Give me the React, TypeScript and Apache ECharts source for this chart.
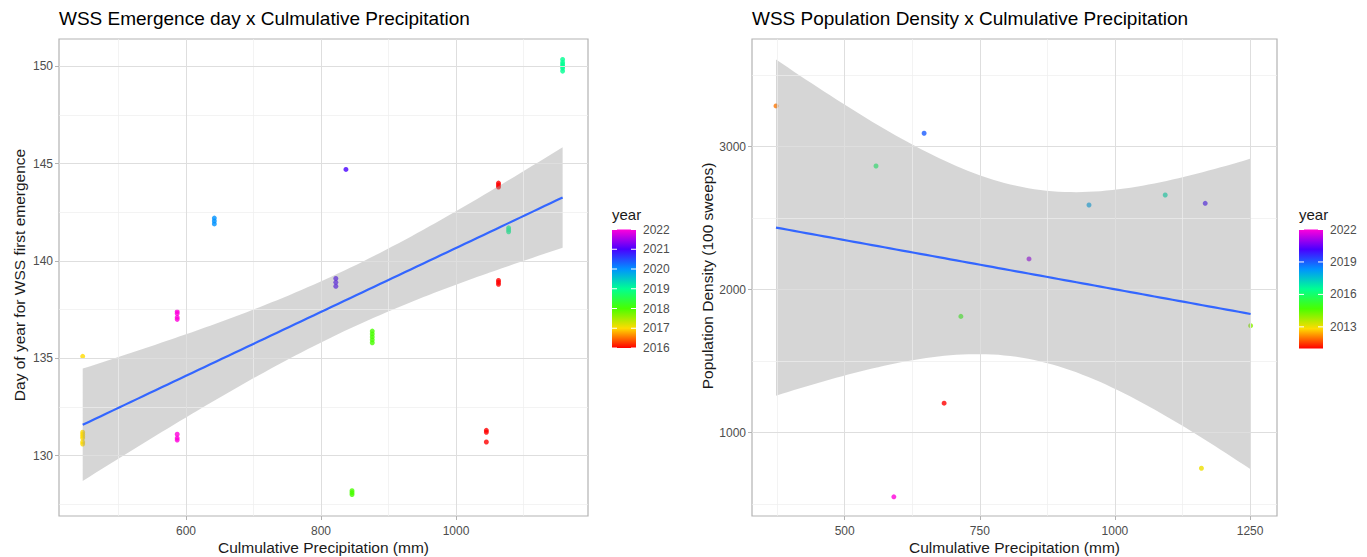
import React, { useEffect, useRef } from "react";
import * as echarts from "echarts";

// ---------- Left panel: emergence day vs cumulative precipitation ----------
const emergencePrecip = [
  447, 447, 447, 447, 447, 447, 447,
  587, 587, 587, 587, 587, 587, 587,
  642, 642, 642,
  822, 822, 822, 837,
  846, 846, 846, 876, 876, 876, 876, 876,
  1063, 1063, 1063, 1063, 1063, 1063, 1045, 1045, 1045,
  1078, 1078, 1078, 1158, 1158, 1158, 1158, 1158, 1158,
];
const emergenceDay = [
  135.1, 131.2, 131.1, 131.0, 130.9, 130.7, 130.6,
  137.4, 137.3, 137.1, 137.0, 131.1, 130.9, 130.8,
  142.2, 142.05, 141.9,
  139.1, 138.9, 138.7, 144.7,
  128.2, 128.1, 128.0, 136.4, 136.25, 136.1, 135.95, 135.8,
  144.0, 143.9, 143.8, 139.0, 138.9, 138.8, 131.3, 131.2, 130.7,
  141.7, 141.6, 141.5, 150.35, 150.2, 150.1, 150.0, 149.9, 149.75,
];
const emergenceYear = [
  2017, 2017, 2017, 2017, 2017, 2017, 2017,
  2022, 2022, 2022, 2022, 2022, 2022, 2022,
  2020, 2020, 2020,
  2021, 2021, 2021, 2021,
  2018, 2018, 2018, 2018, 2018, 2018, 2018, 2018,
  2016, 2016, 2016, 2016, 2016, 2016, 2016, 2016, 2016,
  2019, 2019, 2019, 2019, 2019, 2019, 2019, 2019, 2019,
];

// ---------- Right panel: population density vs cumulative precipitation ----------
const densityPrecip = [684, 373, 1160, 1251, 715, 558, 1093, 952, 647, 1167, 841, 591];
const densityValue = [1206, 3285, 751, 1748, 1813, 2865, 2662, 2592, 3094, 2604, 2215, 551];
const densityYear = [2011, 2012, 2013, 2014, 2015, 2016, 2017, 2018, 2019, 2020, 2021, 2022];

// ---------- Axis ticks ----------
const leftXMajor = [600, 800, 1000];
const leftXMinor = [500, 700, 900, 1100];
const leftYMajor = [130, 135, 140, 145, 150];
const leftYMinor = [127.5, 132.5, 137.5, 142.5, 147.5];
const rightXMajor = [500, 750, 1000, 1250];
const rightXMinor = [375, 625, 875, 1125];
const rightYMajor = [1000, 2000, 3000];
const rightYMinor = [500, 1500, 2500, 3500];
const leftLegendLabels = [2016, 2017, 2018, 2019, 2020, 2021, 2022];
const rightLegendLabels = [2013, 2016, 2019, 2022];

const RAINBOW = ["#FF0000", "#FFDB00", "#49FF00", "#00FF92", "#0092FF", "#4900FF", "#FF00DB"];
const FONT = "'Liberation Sans', Arial, sans-serif";
const GRID_MAJOR = "#DEDEDE";
const GRID_MINOR = "#EEEEEE";
const BORDER = "#B3B3B3";
const TICK_TEXT = "#4D4D4D";

function tQuantile975(df: number) {
  const z = 1.959963985;
  const z3 = z ** 3, z5 = z ** 5, z7 = z ** 7, z9 = z ** 9;
  return (
    z +
    (z3 + z) / (4 * df) +
    (5 * z5 + 16 * z3 + 3 * z) / (96 * df * df) +
    (3 * z7 + 19 * z5 + 17 * z3 - 15 * z) / (384 * df ** 3) +
    (79 * z9 + 776 * z7 + 1482 * z5 - 1920 * z3 - 945 * z) / (92160 * df ** 4)
  );
}

// linear model fit with 95% confidence band (as geom_smooth(method = "lm"))
function lmBand(xs: number[], ys: number[]) {
  const n = xs.length;
  const mx = xs.reduce((a, b) => a + b, 0) / n;
  const my = ys.reduce((a, b) => a + b, 0) / n;
  let sxx = 0, sxy = 0;
  for (let i = 0; i < n; i++) {
    sxx += (xs[i] - mx) ** 2;
    sxy += (xs[i] - mx) * (ys[i] - my);
  }
  const b = sxy / sxx;
  const a = my - b * mx;
  let sse = 0;
  for (let i = 0; i < n; i++) sse += (ys[i] - a - b * xs[i]) ** 2;
  const s = Math.sqrt(sse / (n - 2));
  const t = tQuantile975(n - 2);
  const lo = Math.min(...xs), hi = Math.max(...xs);
  const out: number[][] = [];
  for (let i = 0; i < 80; i++) {
    const x = lo + ((hi - lo) * i) / 79;
    const yh = a + b * x;
    const se = s * Math.sqrt(1 / n + (x - mx) ** 2 / sxx);
    out.push([x, yh, yh - t * se, yh + t * se]);
  }
  return out;
}

function bandSeries(fit: number[][], gridIdx: number) {
  return {
    type: "custom",
    xAxisIndex: gridIdx,
    yAxisIndex: gridIdx,
    z: 4,
    silent: true,
    data: fit.map((p) => [p[0], p[2], p[3]]),
    encode: { x: 0, y: [1, 2] },
    renderItem: (params: any, api: any) => {
      if (params.dataIndex !== 0) return null;
      const upper = fit.map((p) => api.coord([p[0], p[3]]));
      const lower = fit.map((p) => api.coord([p[0], p[2]])).reverse();
      return {
        type: "polygon",
        shape: { points: upper.concat(lower) },
        style: { fill: "rgba(153,153,153,0.4)", stroke: null },
      };
    },
  };
}

function gridLines(gridIdx: number, xMaj: number[], xMin: number[], yMaj: number[], yMin: number[]) {
  const mk = (key: string, vals: number[], color: string, width: number) =>
    vals.map((v) => ({ [key]: v, lineStyle: { color, width, type: "solid" } }));
  return {
    type: "line",
    xAxisIndex: gridIdx,
    yAxisIndex: gridIdx,
    data: [],
    z: 1,
    silent: true,
    markLine: {
      silent: true,
      symbol: ["none", "none"],
      label: { show: false },
      emphasis: { disabled: true },
      animation: false,
      data: [
        ...mk("xAxis", xMin, GRID_MINOR, 0.7),
        ...mk("yAxis", yMin, GRID_MINOR, 0.7),
        ...mk("xAxis", xMaj, GRID_MAJOR, 1),
        ...mk("yAxis", yMaj, GRID_MAJOR, 1),
      ],
    },
  };
}

function colorbar(x: number, top: number, w: number, h: number, min: number, max: number, labels: number[]) {
  const stops = RAINBOW.slice()
    .reverse()
    .map((c, i) => ({ offset: i / (RAINBOW.length - 1), color: c }));
  const els: any[] = [
    {
      type: "text",
      left: x,
      top: top - 23,
      style: { text: "year", fontFamily: FONT, fontSize: 15, fill: "#1A1A1A" },
    },
    {
      type: "rect",
      shape: { x, y: top, width: w, height: h },
      style: { fill: new echarts.graphic.LinearGradient(0, 0, 0, 1, stops) },
    },
  ];
  labels.forEach((yr) => {
    const yy = top + ((max - yr) / (max - min)) * h;
    els.push({
      type: "text",
      x: x + w + 7,
      y: yy,
      style: { text: String(yr), fontFamily: FONT, fontSize: 12, fill: TICK_TEXT, verticalAlign: "middle", align: "left" },
    });
    els.push({ type: "line", shape: { x1: x, y1: yy, x2: x + 5, y2: yy }, style: { stroke: "#FFFFFF", lineWidth: 1 } });
    els.push({ type: "line", shape: { x1: x + w - 5, y1: yy, x2: x + w, y2: yy }, style: { stroke: "#FFFFFF", lineWidth: 1 } });
  });
  return els;
}

function axisPair(gridIdx: number, xr: number[], yr: number[], xt: number[], yt: number[]) {
  const tick = { show: true, length: 4, lineStyle: { color: BORDER, width: 1 } };
  const label = { fontFamily: FONT, fontSize: 12, color: TICK_TEXT, formatter: (v: number) => String(v) };
  return {
    x: {
      type: "value",
      gridIndex: gridIdx,
      min: xr[0],
      max: xr[1],
      axisLine: { show: false },
      axisTick: { ...tick, customValues: xt },
      axisLabel: { ...label, margin: 9, customValues: xt },
      splitLine: { show: false },
    },
    y: {
      type: "value",
      gridIndex: gridIdx,
      min: yr[0],
      max: yr[1],
      axisLine: { show: false },
      axisTick: { ...tick, customValues: yt },
      axisLabel: { ...label, margin: 6, customValues: yt },
      splitLine: { show: false },
    },
  };
}

export default function App() {
  const ref = useRef<HTMLDivElement>(null);
  useEffect(() => {
    if (!ref.current) return;
    const chart = echarts.init(ref.current, null, { renderer: "svg" });
    const leftFit = lmBand(emergencePrecip, emergenceDay);
    const rightFit = lmBand(densityPrecip, densityValue);
    const L = axisPair(0, [411.9, 1195.6], [126.9, 151.4], leftXMajor, leftYMajor);
    const R = axisPair(1, [328.6, 1299.8], [417, 3753], rightXMajor, rightYMajor);
    const grids = [
      { left: 59, top: 39, width: 529, height: 477 },
      { left: 752, top: 39, width: 525, height: 477 },
    ].map((g) => ({ ...g, show: true, borderColor: BORDER, borderWidth: 1.2, backgroundColor: "#FFFFFF" }));

    const option: any = {
      animation: false,
      backgroundColor: "#FFFFFF",
      textStyle: { fontFamily: FONT },
      grid: grids,
      xAxis: [L.x, R.x],
      yAxis: [L.y, R.y],
      visualMap: [
        { type: "continuous", show: false, seriesIndex: 1, dimension: 2, min: 2016, max: 2022, inRange: { color: RAINBOW } },
        { type: "continuous", show: false, seriesIndex: 5, dimension: 2, min: 2011, max: 2022, inRange: { color: RAINBOW } },
      ],
      series: [
        gridLines(0, leftXMajor, leftXMinor, leftYMajor, leftYMinor),
        {
          type: "scatter",
          xAxisIndex: 0,
          yAxisIndex: 0,
          symbolSize: 5,
          z: 3,
          data: emergencePrecip.map((x, i) => [x, emergenceDay[i], emergenceYear[i]]),
        },
        bandSeries(leftFit, 0),
        {
          type: "line",
          xAxisIndex: 0,
          yAxisIndex: 0,
          z: 5,
          symbol: "none",
          lineStyle: { color: "#3366FF", width: 2.2 },
          data: leftFit.map((p) => [p[0], p[1]]),
        },
        gridLines(1, rightXMajor, rightXMinor, rightYMajor, rightYMinor),
        {
          type: "scatter",
          xAxisIndex: 1,
          yAxisIndex: 1,
          symbolSize: 5,
          z: 3,
          data: densityPrecip.map((x, i) => [x, densityValue[i], densityYear[i]]),
        },
        bandSeries(rightFit, 1),
        {
          type: "line",
          xAxisIndex: 1,
          yAxisIndex: 1,
          z: 5,
          symbol: "none",
          lineStyle: { color: "#3366FF", width: 2.2 },
          data: rightFit.map((p) => [p[0], p[1]]),
        },
      ],
      graphic: [
        { type: "text", left: 59, top: 9, style: { text: "WSS Emergence day x Culmulative Precipitation", fontFamily: FONT, fontSize: 19, fill: "#000000" } },
        { type: "text", left: 752, top: 9, style: { text: "WSS Population Density x Culmulative Precipitation", fontFamily: FONT, fontSize: 19, fill: "#000000" } },
        { type: "text", x: 323.5, y: 547, style: { text: "Culmulative Precipitation (mm)", fontFamily: FONT, fontSize: 15.5, fill: "#1A1A1A", align: "center", verticalAlign: "middle" } },
        { type: "text", x: 1014.5, y: 547, style: { text: "Culmulative Precipitation (mm)", fontFamily: FONT, fontSize: 15.5, fill: "#1A1A1A", align: "center", verticalAlign: "middle" } },
        { type: "text", x: 19, y: 275, rotation: Math.PI / 2, style: { text: "Day of year for WSS first emergence", fontFamily: FONT, fontSize: 15.5, fill: "#1A1A1A", align: "center", verticalAlign: "middle" } },
        { type: "text", x: 707, y: 276, rotation: Math.PI / 2, style: { text: "Population Density (100 sweeps)", fontFamily: FONT, fontSize: 15.5, fill: "#1A1A1A", align: "center", verticalAlign: "middle" } },
        ...colorbar(612, 229.5, 24, 118.5, 2016, 2022, leftLegendLabels),
        ...colorbar(1299, 229.5, 24, 119, 2011, 2022, rightLegendLabels),
      ],
    };
    chart.setOption(option);
    return () => chart.dispose();
  }, []);
  return <div ref={ref} style={{ position: "fixed", left: 0, top: 0, width: 1367, height: 557 }} />;
}
